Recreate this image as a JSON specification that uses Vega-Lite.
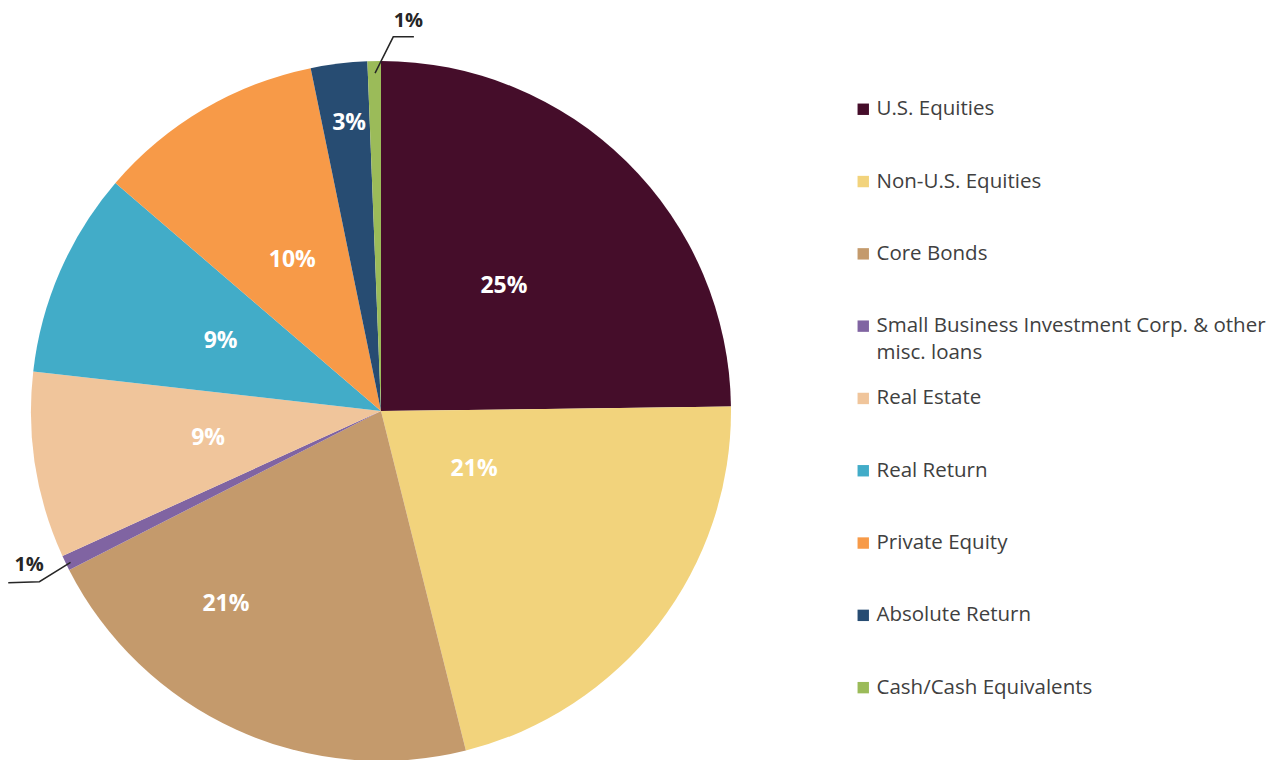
{
  "$schema": "https://vega.github.io/schema/vega-lite/v6.json",
  "width": 700,
  "height": 698,
  "autosize": {"type": "none"},
  "padding": {"left": 31, "top": 62, "right": 542, "bottom": 0},
  "background": "white",
  "config": {"view": {"stroke": null}, "font": "Open Sans"},
  "datasets": {
    "alloc": [
      {"category": "U.S. Equities", "share": 0.248, "rank": 1},
      {"category": "Non-U.S. Equities", "share": 0.213, "rank": 2},
      {"category": "Core Bonds", "share": 0.214, "rank": 3},
      {"category": "Small Business Investment Corp. & other misc. loans", "share": 0.007, "rank": 4},
      {"category": "Real Estate", "share": 0.086, "rank": 5},
      {"category": "Real Return", "share": 0.0949, "rank": 6},
      {"category": "Private Equity", "share": 0.1049, "rank": 7},
      {"category": "Absolute Return", "share": 0.026, "rank": 8},
      {"category": "Cash/Cash Equivalents", "share": 0.0062, "rank": 9}
    ],
    "leaders": [
      {"leader": "cash", "step": 1, "px": -0.017, "py": 0.968},
      {"leader": "cash", "step": 2, "px": 0.035, "py": 1.072},
      {"leader": "cash", "step": 3, "px": 0.094, "py": 1.072},
      {"leader": "sbic", "step": 1, "px": -0.887, "py": -0.434},
      {"leader": "sbic", "step": 2, "px": -0.976, "py": -0.489},
      {"leader": "sbic", "step": 3, "px": -1.065, "py": -0.492}
    ]
  },
  "data": {"name": "alloc"},
  "layer": [
    {
      "mark": {"type": "arc", "radius": 350},
      "encoding": {
        "theta": {"field": "share", "type": "quantitative", "stack": true},
        "order": {"field": "rank", "type": "quantitative"},
        "color": {
          "field": "category",
          "type": "nominal",
          "sort": null,
          "scale": {
            "domain": ["U.S. Equities", "Non-U.S. Equities", "Core Bonds", "Small Business Investment Corp. & other misc. loans", "Real Estate", "Real Return", "Private Equity", "Absolute Return", "Cash/Cash Equivalents"],
            "range": ["#450d2a", "#f2d37c", "#c49a6c", "#8064a2", "#f0c59b", "#42acc8", "#f79a48", "#274c72", "#9bbb59"]
          },
          "legend": {
            "title": null,
            "orient": "none",
            "legendX": 822,
            "legendY": 37,
            "padding": 0,
            "symbolType": "square",
            "symbolSize": 130,
            "symbolStrokeWidth": 0,
            "labelFont": "Open Sans",
            "labelFontSize": 20.5,
            "labelColor": "#404040",
            "labelLimit": 600,
            "labelOffset": 3,
            "rowPadding": 24.3,
            "labelExpr": "datum.label == 'Small Business Investment Corp. & other misc. loans' ? ['Small Business Investment Corp. & other', 'misc. loans'] : [datum.label, '']",
            "encode": {"labels": {"update": {"lineHeight": {"value": 27}}}}
          }
        }
      }
    },
    {
      "mark": {"type": "text", "radius": 175, "fontSize": 23, "fontWeight": "bold", "color": "#ffffff", "align": "center", "baseline": "middle"},
      "encoding": {
        "theta": {"field": "share", "type": "quantitative", "stack": true},
        "order": {"field": "rank", "type": "quantitative"},
        "detail": {"field": "category", "type": "nominal"},
        "text": {
          "condition": {"test": "indexof(['U.S. Equities','Real Estate','Real Return','Private Equity'], datum.category) >= 0", "field": "share", "type": "quantitative", "format": ".0%"},
          "value": ""
        }
      }
    },
    {
      "mark": {"type": "text", "radius": 290, "dx": 3, "fontSize": 23, "fontWeight": "bold", "color": "#ffffff", "align": "center", "baseline": "middle"},
      "encoding": {
        "theta": {"field": "share", "type": "quantitative", "stack": true},
        "order": {"field": "rank", "type": "quantitative"},
        "detail": {"field": "category", "type": "nominal"},
        "text": {
          "condition": {"test": "datum.category == 'Absolute Return'", "field": "share", "type": "quantitative", "format": ".0%"},
          "value": ""
        }
      }
    },
    {
      "mark": {"type": "text", "radius": 110, "dx": 6, "dy": -9, "fontSize": 23, "fontWeight": "bold", "color": "#ffffff", "align": "center", "baseline": "middle"},
      "encoding": {
        "theta": {"field": "share", "type": "quantitative", "stack": true},
        "order": {"field": "rank", "type": "quantitative"},
        "detail": {"field": "category", "type": "nominal"},
        "text": {
          "condition": {"test": "datum.category == 'Non-U.S. Equities'", "field": "share", "type": "quantitative", "format": ".0%"},
          "value": ""
        }
      }
    },
    {
      "mark": {"type": "text", "radius": 239, "dx": -56, "dy": -25, "fontSize": 23, "fontWeight": "bold", "color": "#ffffff", "align": "center", "baseline": "middle"},
      "encoding": {
        "theta": {"field": "share", "type": "quantitative", "stack": true},
        "order": {"field": "rank", "type": "quantitative"},
        "detail": {"field": "category", "type": "nominal"},
        "text": {
          "condition": {"test": "datum.category == 'Core Bonds'", "field": "share", "type": "quantitative", "format": ".0%"},
          "value": ""
        }
      }
    },
    {
      "mark": {"type": "text", "radius": 390, "dx": 35, "fontSize": 20, "fontWeight": "bold", "color": "#262626", "align": "center", "baseline": "middle"},
      "encoding": {
        "theta": {"field": "share", "type": "quantitative", "stack": true},
        "order": {"field": "rank", "type": "quantitative"},
        "detail": {"field": "category", "type": "nominal"},
        "text": {
          "condition": {"test": "datum.category == 'Cash/Cash Equivalents'", "field": "share", "type": "quantitative", "format": ".0%"},
          "value": ""
        }
      }
    },
    {
      "mark": {"type": "text", "radius": 384, "dx": -6, "dy": -13, "fontSize": 20, "fontWeight": "bold", "color": "#262626", "align": "center", "baseline": "middle"},
      "encoding": {
        "theta": {"field": "share", "type": "quantitative", "stack": true},
        "order": {"field": "rank", "type": "quantitative"},
        "detail": {"field": "category", "type": "nominal"},
        "text": {
          "condition": {"test": "datum.category == 'Small Business Investment Corp. & other misc. loans'", "field": "share", "type": "quantitative", "format": ".0%"},
          "value": ""
        }
      }
    },
    {
      "data": {"name": "leaders"},
      "mark": {"type": "line", "color": "#262626", "strokeWidth": 1.5},
      "encoding": {
        "x": {"field": "px", "type": "quantitative", "scale": {"domain": [-1, 1], "nice": false, "zero": false}, "axis": null},
        "y": {"field": "py", "type": "quantitative", "scale": {"domain": [-1, 1], "nice": false, "zero": false}, "axis": null},
        "detail": {"field": "leader", "type": "nominal"},
        "order": {"field": "step", "type": "quantitative"}
      }
    }
  ]
}
